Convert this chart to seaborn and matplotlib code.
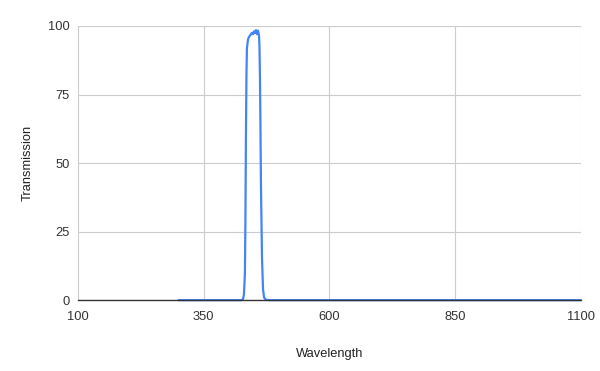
import matplotlib
matplotlib.use("Agg")
import matplotlib.pyplot as plt
import seaborn as sns
import pandas as pd

wavelength = [300, 400, 425, 428, 430, 432, 433, 434, 435, 436, 438, 440, 442, 444,
              446, 448, 450, 452, 454, 456, 458, 460, 461, 462, 463, 464, 466, 468,
              470, 473, 480, 600, 850, 1100]
transmission = [0, 0, 0, 0.3, 2, 10, 30, 60, 82, 92, 95, 96, 96.5, 97,
                97.5, 97, 98, 97.5, 98.5, 97, 98.3, 96.5, 92, 80, 60, 40, 15, 4,
                1, 0.2, 0, 0, 0, 0]
x_ticks = [100, 350, 600, 850, 1100]
y_ticks = [0, 25, 50, 75, 100]

sns.set_theme(style="white")
plt.rcParams['font.family'] = ['Liberation Sans', 'DejaVu Sans']

df = pd.DataFrame({"Wavelength": wavelength, "Transmission": transmission})

fig = plt.figure(figsize=(6, 3.71), dpi=100)
ax = fig.add_axes([0.13, 0.191, 0.838, 0.739])
sns.lineplot(data=df, x="Wavelength", y="Transmission", ax=ax,
             color="#4285F4", linewidth=1.6, zorder=2, clip_on=False)

ax.set_xlim(100, 1100)
ax.set_ylim(0, 100)
ax.set_xticks(x_ticks)
ax.set_yticks(y_ticks)
ax.grid(True, color="#cccccc", linewidth=0.8)
ax.set_axisbelow(True)
for s in ["top", "right", "left"]:
    ax.spines[s].set_visible(False)
ax.spines["bottom"].set_color("#333333")
ax.spines["bottom"].set_linewidth(1)
ax.spines["bottom"].set_zorder(2.5)
ax.tick_params(axis="both", length=0, labelsize=9.3, colors="#333333", pad=6)
ax.tick_params(axis="x", pad=8)
ax.set_xlabel("Wavelength", fontsize=9.3, color="#222222", labelpad=18)
ax.set_ylabel("Transmission", fontsize=9.3, color="#222222", labelpad=10)

fig.savefig("out.png", dpi=100)
